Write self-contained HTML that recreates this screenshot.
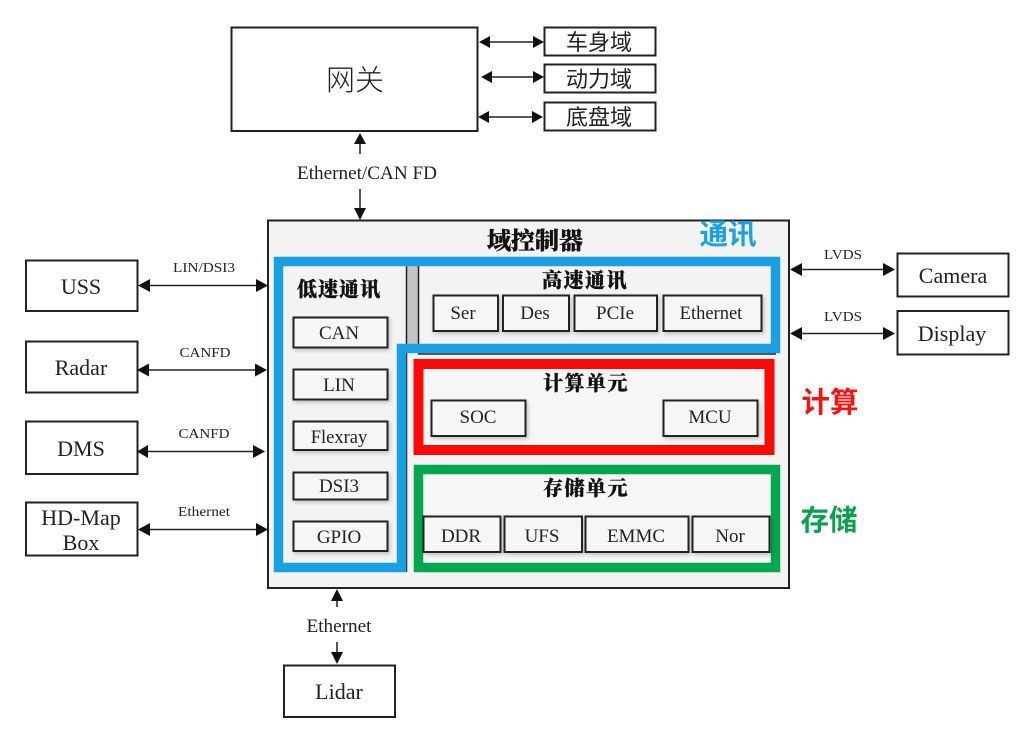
<!DOCTYPE html>
<html><head><meta charset="utf-8"><style>
html,body{margin:0;padding:0;background:#fff;width:1024px;height:736px;overflow:hidden}
svg{display:block}
text{font-family:"Liberation Serif","Noto Serif CJK SC",serif;fill:#222;text-anchor:middle}
.c{font-family:"Liberation Sans","Noto Sans CJK SC",sans-serif}
.b{font-family:"Liberation Serif","Noto Serif CJK SC",serif;font-weight:900;fill:#111;stroke:#111;stroke-width:.3}
.box{fill:#fff;stroke:#222;stroke-width:2}
.in{fill:#f6f6f6;stroke:#222;stroke-width:2;filter:url(#s)}
.l{stroke:#222;stroke-width:1.5;fill:none}
.a{fill:#111}
</style></head><body>
<svg width="1024" height="736" viewBox="0 0 1024 736" xmlns="http://www.w3.org/2000/svg">
<defs><filter id="s" x="-10%" y="-15%" width="125%" height="140%"><feDropShadow dx="1.5" dy="2" stdDeviation="2" flood-color="#000" flood-opacity=".22"/></filter></defs>
<rect width="1024" height="736" fill="#fff"/>

<!-- gateway -->
<rect class="box" x="231.500" y="27.500" width="246" height="103.500"/>
<text class="c" x="355" y="90" font-size="29" style="font-weight:300">网关</text>
<rect class="box" x="544.500" y="27.500" width="111" height="28"/>
<rect class="box" x="544.500" y="64.500" width="111" height="28"/>
<rect class="box" x="544.500" y="102.500" width="111" height="28"/>
<text class="c" x="599" y="50" font-size="22">车身域</text>
<text class="c" x="599" y="87" font-size="22">动力域</text>
<text class="c" x="599" y="125" font-size="22">底盘域</text>

<path class="l" d="M488 42H534M490 77H534M488 117H533"/>
<path class="a" d="M479 42l11-6v12zM544 42l-11-6v12zM481 77l11-6v12zM544 77l-11-6v12zM478 117l11-6v12zM543 117l-11-6v12z"/>

<path class="l" d="M360 143V154M360 189V210"/>
<path class="a" d="M360 133l-6 11h12zM360 220l-6-12h12z"/>
<text x="367" y="179" font-size="18.500" textLength="140" lengthAdjust="spacingAndGlyphs">Ethernet/CAN FD</text>

<!-- main -->
<rect x="268" y="220.500" width="521" height="367.500" fill="#f3f3f3" stroke="#222" stroke-width="2"/>
<text class="b" x="535" y="249" font-size="24">域控制器</text>

<!-- inner separators -->
<rect x="407" y="266" width="11" height="78" fill="#c4c4c4"/>
<path d="M406.500 266V572M418.500 266V344M418 354H776" stroke="#222" stroke-width="1.500" fill="none"/>

<!-- blue frame -->
<path d="M278.500 261.500H775.500V348.500H401.500V567.500H278.500Z" fill="none" stroke="#19a0e0" stroke-width="9.500" stroke-linejoin="miter"/>
<!-- red frame -->
<rect x="418.500" y="364" width="351" height="86" fill="#f6f6f6" stroke="#fb0808" stroke-width="10"/>
<!-- green frame -->
<rect x="418.500" y="469.500" width="357" height="98" fill="#f6f6f6" stroke="#05a650" stroke-width="9.500"/>

<text class="b" x="339" y="296" font-size="20" letter-spacing="1">低速通讯</text>
<text class="b" x="585" y="287" font-size="20" letter-spacing="1.500">高速通讯</text>
<text class="b" x="586" y="390" font-size="20" letter-spacing="1.500">计算单元</text>
<text class="b" x="586" y="495" font-size="20" letter-spacing="1.500">存储单元</text>

<!-- inner boxes -->
<rect class="in" x="293.500" y="317.500" width="94" height="30"/>
<rect class="in" x="293.500" y="369.500" width="94" height="30"/>
<rect class="in" x="293.500" y="421.500" width="94" height="28.500"/>
<rect class="in" x="293.500" y="472.500" width="94" height="27"/>
<rect class="in" x="293.500" y="521.500" width="94" height="29.500"/>
<rect class="in" x="433.500" y="295.500" width="64.500" height="35.500"/>
<rect class="in" x="503" y="295.500" width="66" height="35.500"/>
<rect class="in" x="574.500" y="295.500" width="82.500" height="35.500"/>
<rect class="in" x="663.500" y="295.500" width="98" height="35.500"/>
<rect class="in" x="431.500" y="400.500" width="94" height="35.500"/>
<rect class="in" x="663.500" y="400.500" width="94" height="35.500"/>
<rect class="in" x="423.500" y="516.500" width="77" height="35.500"/>
<rect class="in" x="504.500" y="516.500" width="77.500" height="35.500"/>
<rect class="in" x="585.500" y="516.500" width="103" height="35.500"/>
<rect class="in" x="692.500" y="516.500" width="77" height="35.500"/>

<g font-size="19">
<text x="339" y="339">CAN</text>
<text x="339" y="391">LIN</text>
<text x="339" y="443" font-size="18.500">Flexray</text>
<text x="339" y="492">DSI3</text>
<text x="339" y="543">GPIO</text>
<text x="463" y="319">Ser</text>
<text x="535" y="319">Des</text>
<text x="615" y="319">PCIe</text>
<text x="711" y="319" font-size="18.500">Ethernet</text>
<text x="478" y="423">SOC</text>
<text x="710" y="423">MCU</text>
<text x="461" y="542">DDR</text>
<text x="542" y="542">UFS</text>
<text x="636" y="542">EMMC</text>
<text x="730" y="542">Nor</text>
</g>

<!-- colored labels -->
<text class="c" x="728" y="244" font-size="28.500" style="fill:#1ba1e2;font-weight:700">通讯</text>
<text class="c" x="830" y="412" font-size="28.500" style="fill:#f01414;font-weight:700">计算</text>
<text class="c" x="829" y="530" font-size="28.500" style="fill:#0aa050;font-weight:700">存储</text>

<!-- left externals -->
<rect class="box" x="26" y="260.500" width="111.500" height="50.500"/>
<rect class="box" x="26" y="341.500" width="111.500" height="51"/>
<rect class="box" x="26" y="421.500" width="111.500" height="52.500"/>
<rect class="box" x="26" y="502.500" width="111.500" height="53"/>
<g font-size="22">
<text x="81" y="294">USS</text>
<text x="81" y="375">Radar</text>
<text x="81" y="456">DMS</text>
<text x="81" y="525">HD-Map</text>
<text x="81" y="550">Box</text>
</g>
<path class="l" d="M148 285.500H258M148 370H258M146 451.500H256M148 529.500H258"/>
<path class="a" d="M138 285.500l12-6.500v13zM268 285.500l-12-6.500v13zM137 370l12-6.500v13zM267 370l-12-6.500v13zM137 451.500l11-6.500v13zM265 451.500l-12-6.500v13zM138 529.500l12-6.500v13zM268 529.500l-12-6.500v13z"/>
<g font-size="14">
<text x="204" y="272" textLength="62" lengthAdjust="spacingAndGlyphs">LIN/DSI3</text>
<text x="205" y="357" textLength="51" lengthAdjust="spacingAndGlyphs">CANFD</text>
<text x="204" y="438" textLength="51" lengthAdjust="spacingAndGlyphs">CANFD</text>
<text x="204" y="516" textLength="52" lengthAdjust="spacingAndGlyphs">Ethernet</text>
</g>

<!-- right externals -->
<rect class="box" x="897.500" y="253.500" width="111" height="43"/>
<rect class="box" x="897.500" y="311" width="111" height="43.500"/>
<text x="953" y="283" font-size="22">Camera</text>
<text x="952" y="341" font-size="22">Display</text>
<path class="l" d="M800 269.500H886M800 333.500H886"/>
<path class="a" d="M790 269.500l12-6.500v13zM895 269.500l-12-6.500v13zM790 333.500l12-6.500v13zM895 333.500l-12-6.500v13z"/>
<text x="843" y="259" font-size="14" textLength="38" lengthAdjust="spacingAndGlyphs">LVDS</text>
<text x="843" y="321" font-size="14" textLength="38" lengthAdjust="spacingAndGlyphs">LVDS</text>

<!-- lidar -->
<path class="l" d="M337 598V607M337 642V655"/>
<path class="a" d="M337 589l-6 12h12zM337 664l-6-12h12z"/>
<text x="339" y="632" font-size="18.500" textLength="65" lengthAdjust="spacingAndGlyphs">Ethernet</text>
<rect class="box" x="284" y="665.500" width="111" height="51.500"/>
<text x="339" y="699" font-size="22">Lidar</text>
</svg>
</body></html>
